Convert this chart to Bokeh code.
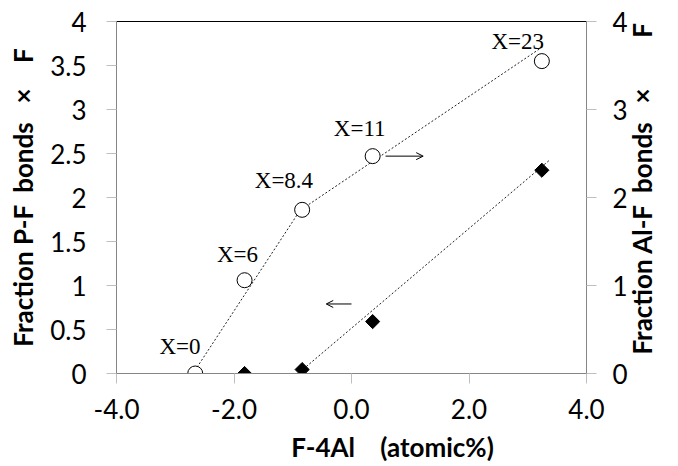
import math
from bokeh.plotting import figure
from bokeh.models import Range1d, LinearAxis, FixedTicker, NumeralTickFormatter, Arrow, OpenHead, ColumnDataSource
from bokeh.core.properties import value
from bokeh.embed import file_html
from bokeh.resources import INLINE

# ---- data ----
f4al = [-2.66, -1.82, -0.84, 0.36, 3.24]           # F-4Al (atomic%)
pf_frac = [0.0, 1.06, 1.86, 2.47, 3.55]             # Fraction P-F bonds x F (open circles)
x_labels = ["X=0", "X=6", "X=8.4", "X=11", "X=23"]
label_x = [-2.92, -1.94, -1.15, 0.14, 2.83]
label_y = [0.31, 1.35, 2.19, 2.78, 3.77]

f4al_al = [-1.82, -0.84, 0.36, 3.24]
alf_frac = [0.0, 0.045, 0.59, 2.31]                 # Fraction Al-F bonds x F (diamonds)

# trend line segments (endpoints)
trend1_x = [-2.63, -0.86]
trend1_y = [0.07, 1.87]
trend2_x = [-0.84, 3.27]
trend2_y = [1.87, 3.72]
trend3_x = [-0.82, 3.38]
trend3_y = [0.05, 2.43]

# arrows: [x_start, x_end, y]
arrow_right = [0.58, 1.22, 2.47]
arrow_left = [0.0, -0.43, 0.79]

x_ticks = [-4, -2, 0, 2, 4]
y_left_ticks = [0, 0.5, 1, 1.5, 2, 2.5, 3, 3.5, 4]
y_right_ticks = [0, 1, 2, 3, 4]

SANS = "Lato"
SERIF = "Liberation Serif"
AXIS_GRAY = "#868686"
NB = "\u00a0"

p = figure(width=678, height=466, output_backend="svg", toolbar_location=None,
           x_range=Range1d(-4, 4), y_range=Range1d(0, 4),
           min_border_left=116, min_border_right=92, min_border_top=21, min_border_bottom=93)
p.extra_y_ranges = {"right": Range1d(0, 4)}
p.xgrid.visible = False
p.ygrid.visible = False
p.outline_line_color = "black"
p.outline_line_width = 1
p.background_fill_color = "white"
p.border_fill_color = "white"

def style_axis(ax):
    ax.axis_line_color = AXIS_GRAY
    ax.major_tick_line_color = "#bfbfbf"
    ax.minor_tick_line_color = None
    ax.major_tick_in = 0
    ax.major_tick_out = 10
    ax.major_label_text_font = SANS
    ax.major_label_text_font_size = "26px"
    ax.major_label_text_color = "black"
    ax.axis_label_text_font = SANS
    ax.axis_label_text_font_style = "bold"
    ax.axis_label_text_font_size = "26px"
    ax.axis_label_text_color = "black"

xa = p.xaxis[0]
style_axis(xa)
xa.ticker = FixedTicker(ticks=x_ticks)
xa.formatter = NumeralTickFormatter(format="0.0")
xa.axis_label = NB * 13 + "F-4Al" + NB * 4 + "(atomic%)"
xa.major_label_standoff = 15
xa.axis_label_standoff = 9

ya = p.yaxis[0]
style_axis(ya)
ya.ticker = FixedTicker(ticks=y_left_ticks)
ya.formatter = NumeralTickFormatter(format="0.[0]")
ya.axis_label = "Fraction" + NB + "P-F" + NB * 2 + "bonds" + NB * 3 + "\u00d7" + NB * 4 + "F"
ya.major_label_standoff = 20
ya.axis_label_standoff = 8

yr = LinearAxis(y_range_name="right")
style_axis(yr)
yr.ticker = FixedTicker(ticks=y_right_ticks)
yr.formatter = NumeralTickFormatter(format="0")
yr.major_label_standoff = 16
yr.axis_label = NB * 3 + "Fraction" + NB + "Al-F" + NB * 2 + "bonds" + NB * 3 + "\u00d7" + NB * 8 + "F"
yr.axis_label_standoff = 11
yr.axis_label_orientation = math.pi / 2
try:
    yr.axis_label_align = "start"
except Exception:
    pass
p.add_layout(yr, "right")

# trend lines
for tx, ty, rng in [(trend1_x, trend1_y, "right"), (trend2_x, trend2_y, "right"), (trend3_x, trend3_y, "default")]:
    p.line(tx, ty, line_color="#222222", line_width=1, line_dash="2 2", y_range_name=rng)

# markers
p.scatter(f4al, pf_frac, marker="circle", size=15, fill_color="white", line_color="black",
          line_width=1, y_range_name="right")
p.scatter(f4al_al, alf_frac, marker="square", size=10, angle=math.pi / 4,
          fill_color="black", line_color="black")

# X= labels
src = ColumnDataSource(dict(x=label_x, y=label_y, t=x_labels))
p.text(x="x", y="y", text="t", source=src, text_font=value(SERIF), text_font_size="23px",
       text_align="center", text_baseline="middle", text_color="black", y_range_name="right")

# arrows
p.add_layout(Arrow(x_start=arrow_right[0], x_end=arrow_right[1], y_start=arrow_right[2], y_end=arrow_right[2],
                   line_width=1, line_color="black", end=OpenHead(size=7, line_width=1, line_color="black")))
p.add_layout(Arrow(x_start=arrow_left[0], x_end=arrow_left[1], y_start=arrow_left[2], y_end=arrow_left[2],
                   line_width=1, line_color="black", end=OpenHead(size=7, line_width=1, line_color="black")))

open("out.html", "w").write(file_html(p, INLINE))
